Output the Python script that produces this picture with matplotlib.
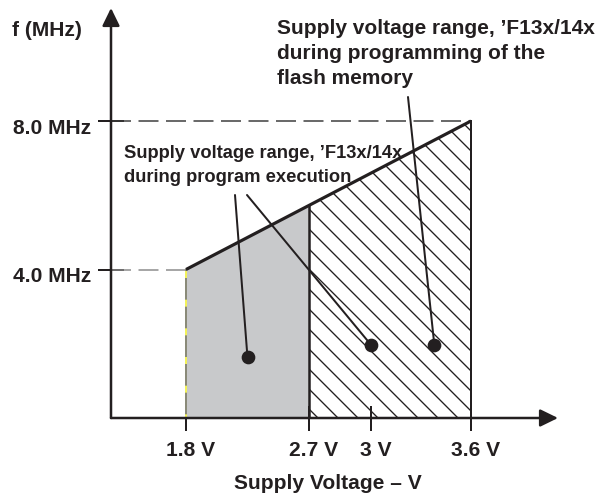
import numpy as np
import matplotlib
matplotlib.use('Agg')
import matplotlib.pyplot as plt
from matplotlib.transforms import ScaledTranslation

# ---------------- data ----------------
volt_ticks = [1.8, 2.7, 3.0, 3.6]
volt_tick_labels = ['1.8 V', '2.7 V', '3 V', '3.6 V']
freq_ticks = [4.0, 8.0]
freq_tick_labels = ['4.0 MHz', '8.0 MHz']

exec_volts = [1.8, 2.7]          # program execution range (grey)
exec_fmax = [4.0, 5.7]
flash_volts = [2.7, 3.6]         # flash programming range (hatched)
flash_fmax = [5.7, 8.0]
limit_volts = [1.8, 3.6]         # fmax limit line
limit_fmax = [4.0, 8.0]

dot_volts = [2.25, 3.0, 3.38]
dot_freqs = [1.63, 1.97, 1.97]

note_exec = "Supply voltage range, \u2019F13x/14x\nduring program execution"
note_flash = "Supply voltage range, \u2019F13x/14x\nduring programming of the\nflash memory"

# ---------------- style ----------------
DARK = '#231f20'
GREY = '#c8c9cb'
DPI = 120
plt.rcParams['font.family'] = ['Liberation Sans', 'DejaVu Sans']
plt.rcParams['font.weight'] = 'bold'
plt.rcParams['hatch.linewidth'] = 0.8
plt.rcParams['lines.scale_dashes'] = False

# piecewise-linear voltage axis (as drawn in the reference)
SCALE_V = [1.0, 1.8, 2.7, 3.0, 3.6, 4.5]
SCALE_P = [76.7, 186.0, 309.0, 371.0, 471.0, 621.0]


def fwd(v):
    return np.interp(v, SCALE_V, SCALE_P)


def inv(p):
    return np.interp(p, SCALE_P, SCALE_V)


AX_L, AX_R, AX_B, AX_T = 111, 558, 418, 8
W, H = 596, 493


def fx(p):
    return (p - AX_L) / (AX_R - AX_L)


def fy(p):
    return (AX_B - p) / (AX_B - AX_T)


fig = plt.figure(figsize=(W / DPI, H / DPI), dpi=DPI)
ax = fig.add_axes([AX_L / W, (H - AX_B) / H, (AX_R - AX_L) / W, (AX_B - AX_T) / H])
ax.set_xscale('function', functions=(fwd, inv))
ax.set_xlim(inv(AX_L), inv(AX_R))
ax.set_ylim(0, (AX_B - AX_T) / 37.125)
for s in ax.spines.values():
    s.set_visible(False)

# regions
ax.fill_between(exec_volts, 0, exec_fmax, facecolor=GREY, edgecolor='none', linewidth=0, zorder=1)
ax.fill_between(flash_volts, 0, flash_fmax, facecolor='white', edgecolor=DARK,
                hatch='\\\\', linewidth=0, zorder=1)

# reference dashed lines
ax.plot([inv(AX_L), limit_volts[1]], [limit_fmax[1]] * 2, color='#3a3a3a', lw=0.9,
        ls=(0, (12, 4.5)), zorder=2)
ax.plot([inv(AX_L), limit_volts[0]], [limit_fmax[0]] * 2, color='#8a8a8a', lw=0.9,
        ls=(0, (12, 4.5)), zorder=2)

# left edge of execution range (grey / yellow dashed)
ax.plot([exec_volts[0]] * 2, [0, exec_fmax[0]], color='#8a8a78', lw=1.2, zorder=3)
ax.plot([exec_volts[0]] * 2, [0, exec_fmax[0]], color='#f2f25a', lw=1.2,
        ls=(2, (4.2, 13)), zorder=3)

# boundaries
ax.plot(limit_volts, limit_fmax, color=DARK, lw=1.9, zorder=4, solid_capstyle='butt')
ax.plot([flash_volts[0]] * 2, [0, flash_fmax[0]], color=DARK, lw=1.5, zorder=4)
ax.plot([flash_volts[1]] * 2, [0, flash_fmax[1]], color=DARK, lw=1.2, zorder=4)

# axes with arrows
arrow_kw = dict(arrowstyle='-|>,head_length=9,head_width=4.4', mutation_scale=1,
                lw=1.5, color=DARK, shrinkA=0, shrinkB=0)
ax.annotate('', xy=(1, 0), xycoords='axes fraction', xytext=(0, 0),
            textcoords='axes fraction', arrowprops=arrow_kw, annotation_clip=False, zorder=5)
ax.annotate('', xy=(0, 1), xycoords='axes fraction', xytext=(0, 0),
            textcoords='axes fraction', arrowprops=arrow_kw, annotation_clip=False, zorder=5)

# ticks
ax.set_xticks(volt_ticks, volt_tick_labels)
ax.set_yticks(freq_ticks, freq_tick_labels)
ax.minorticks_off()
ax.tick_params(axis='x', direction='inout', length=15, width=1.2, color=DARK, pad=6,
               labelsize=12.6, labelcolor=DARK)
ax.tick_params(axis='y', direction='inout', length=16, width=1.2, color=DARK, pad=4,
               labelsize=12.6, labelcolor=DARK)
for lab in ax.get_xticklabels():
    lab.set_fontweight('bold')
    lab.set_transform(lab.get_transform() + ScaledTranslation(5 / DPI, 0, fig.dpi_scale_trans))
for lab in ax.get_yticklabels():
    lab.set_fontweight('bold')
    lab.set_transform(lab.get_transform() + ScaledTranslation(0, -5.5 / DPI, fig.dpi_scale_trans))

# axis labels
ax.set_xlabel('Supply Voltage \u2013 V', fontsize=12.6, fontweight='bold', color=DARK, va='top')
ax.xaxis.set_label_coords(fx(328), fy(474))
ax.set_ylabel('f (MHz)', fontsize=12.6, fontweight='bold', color=DARK, rotation=0,
              ha='left', va='center')
ax.yaxis.set_label_coords(fx(12), fy(30))

# notes
ax.text(fx(124), fy(145), note_exec, transform=ax.transAxes, fontsize=11.0,
        fontweight='bold', color=DARK, ha='left', va='top', linespacing=1.55, zorder=7)
ax.text(fx(277), fy(19), note_flash, transform=ax.transAxes, fontsize=12.5,
        fontweight='bold', color=DARK, ha='left', va='top', linespacing=1.4, zorder=7)

# pointers
line_kw = dict(arrowstyle='-', lw=1.2, color=DARK, shrinkA=0, shrinkB=0)
starts = [(235, 195), (247, 195), (408, 97)]
for (sx, sy), v, f in zip(starts, dot_volts, dot_freqs):
    ax.annotate('', xy=(v, f), xycoords='data', xytext=(fx(sx), fy(sy)),
                textcoords='axes fraction', arrowprops=line_kw, zorder=6)
ax.plot(dot_volts, dot_freqs, 'o', ms=7.2, color=DARK, zorder=6)

fig.savefig('out.png', dpi=DPI)
